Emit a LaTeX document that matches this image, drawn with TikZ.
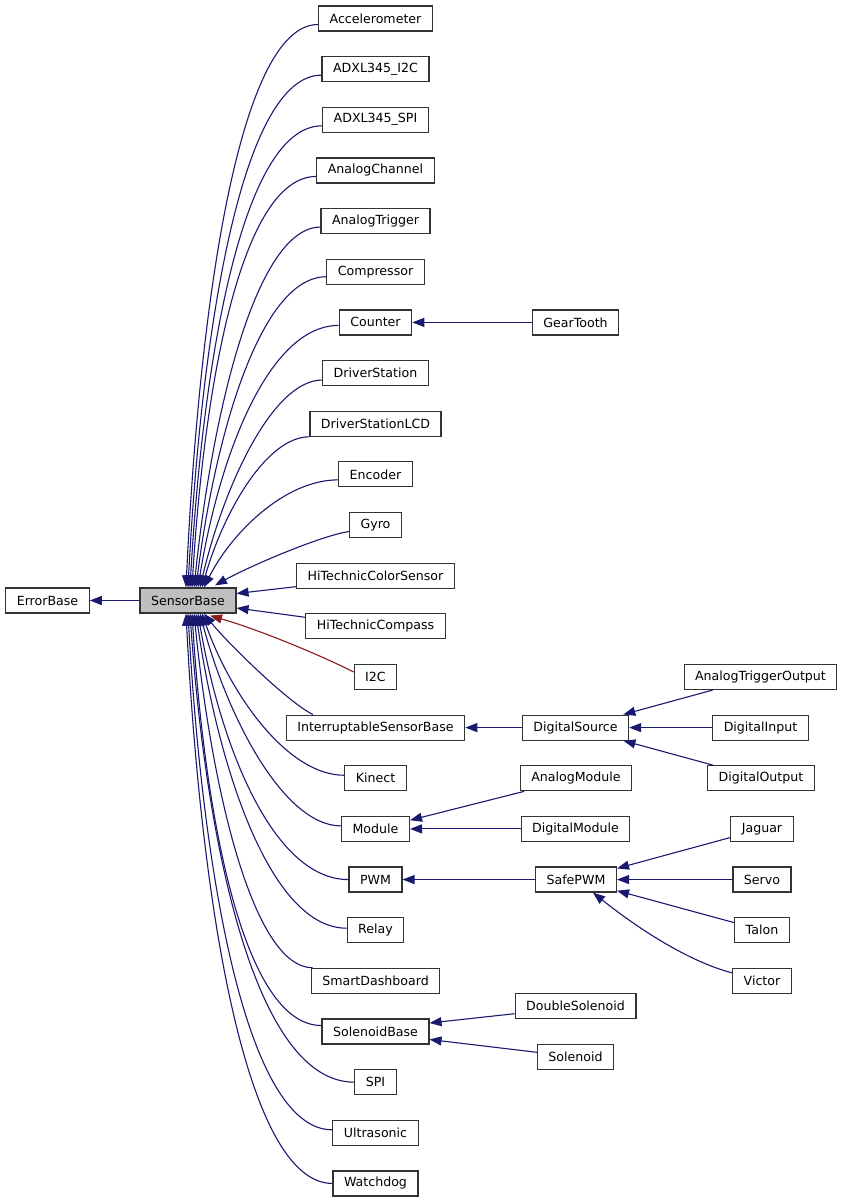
\documentclass[tikz,border=0pt]{standalone}
\usepackage{fontspec}
\setmainfont{DejaVu Sans}
\usetikzlibrary{arrows.meta,calc}
\definecolor{navy}{HTML}{191970}
\definecolor{fire}{HTML}{8B1A1A}
\definecolor{boxline}{HTML}{333333}
\definecolor{sbfill}{HTML}{BFBFBF}
% curved connector: style, start, end, a, b
\newcommand\sbarc[5]{%
  \draw[#1] let \p1=#2, \p2=#3 in
    (\p1) .. controls ({\x1-#4*(\x1-\x2)},{\y1}) and ({\x2+#5*(\x1-\x2)},{0.5*(\y1+\y2)}) .. (\p2);}
\begin{document}
\begin{tikzpicture}[x=1pt,y=-1pt,
  cls/.style={draw=boxline, line width=1.2pt, fill=white, minimum height=25pt,
    inner xsep=11pt, inner ysep=0pt, font=\fontsize{12.6}{14}\selectfont, text=black},
  inh/.style={draw=navy, line width=1.1pt, -{Triangle[length=12pt,width=9pt]}},
  priv/.style={draw=fire, line width=1.1pt, -{Triangle[length=12pt,width=9pt]}}]
\useasboundingbox (0,0) rectangle (843,1203);

% base classes
\node[cls] (eb) at (47.5,600.5) {ErrorBase};
\node[cls, fill=sbfill] (sb) at (188,600.5) {SensorBase};

% column 2
\node[cls] (acc) at (375.5,18.5) {Accelerometer};
\node[cls] (adi) at (375.5,69.15) {ADXL345\_I2C};
\node[cls] (ads) at (375.5,119.8) {ADXL345\_SPI};
\node[cls] (ach) at (375.5,170.45) {AnalogChannel};
\node[cls] (atr) at (375.5,221.1) {AnalogTrigger};
\node[cls] (cmp) at (375.5,271.75) {Compressor};
\node[cls] (cnt) at (375.5,322.4) {Counter};
\node[cls] (dst) at (375.5,373.05) {DriverStation};
\node[cls] (dsl) at (375.5,423.7) {DriverStationLCD};
\node[cls] (enc) at (375.5,474.35) {Encoder};
\node[cls] (gyr) at (375.5,525.0) {Gyro};
\node[cls] (hcs) at (375.5,575.65) {HiTechnicColorSensor};
\node[cls] (hcp) at (375.5,626.3) {HiTechnicCompass};
\node[cls] (itc) at (375.5,676.95) {I2C};
\node[cls] (isb) at (375.5,727.6) {InterruptableSensorBase};
\node[cls] (kin) at (375.5,778.25) {Kinect};
\node[cls] (mod) at (375.5,828.9) {Module};
\node[cls] (pwm) at (375.5,879.55) {PWM};
\node[cls] (rel) at (375.5,930.2) {Relay};
\node[cls] (smd) at (375.5,980.85) {SmartDashboard};
\node[cls] (slb) at (375.5,1031.5) {SolenoidBase};
\node[cls] (spi) at (375.5,1082.15) {SPI};
\node[cls] (uls) at (375.5,1132.8) {Ultrasonic};
\node[cls] (wdg) at (375.5,1183.45) {Watchdog};

% column 3
\node[cls] (gear) at (575.5,322.4) {GearTooth};
\node[cls] (dsrc) at (575.5,727.6) {DigitalSource};
\node[cls] (amod) at (576,778.25) {AnalogModule};
\node[cls] (dmod) at (575.5,828.9) {DigitalModule};
\node[cls] (spwm) at (576,879.55) {SafePWM};
\node[cls] (dsol) at (575.5,1006.2) {DoubleSolenoid};
\node[cls] (sol) at (575.5,1056.8) {Solenoid};

% column 4
\node[cls] (ato) at (760.5,676.95) {AnalogTriggerOutput};
\node[cls] (din) at (760.5,727.6) {DigitalInput};
\node[cls] (dout) at (761,778.25) {DigitalOutput};
\node[cls] (jag) at (762,828.9) {Jaguar};
\node[cls] (srv) at (762,879.55) {Servo};
\node[cls] (tal) at (762,930.2) {Talon};
\node[cls] (vic) at (762,980.85) {Victor};

% SensorBase -> ErrorBase
\draw[inh] (sb.west) -- (eb.east);

% upper children of SensorBase
\sbarc{inh}{([yshift=-6]acc.west)}{([xshift=-2]sb.north)}{0.6}{0.1}
\sbarc{inh}{([yshift=-6]adi.west)}{(sb.north)}{0.6}{0.1}
\sbarc{inh}{([yshift=-6]ads.west)}{([xshift=2]sb.north)}{0.6}{0.1}
\sbarc{inh}{([yshift=-6]ach.west)}{([xshift=4]sb.north)}{0.6}{0.1}
\sbarc{inh}{([yshift=-6]atr.west)}{([xshift=6]sb.north)}{0.5}{0.15}
\sbarc{inh}{([yshift=-5]cmp.west)}{([xshift=8]sb.north)}{0.5}{0.15}
\sbarc{inh}{([yshift=-3]cnt.west)}{([xshift=10]sb.north)}{0.5}{0.15}
\sbarc{inh}{([yshift=-7]dst.west)}{([xshift=12]sb.north)}{0.4}{0.2}
\sbarc{inh}{(dsl.south west)}{([xshift=14]sb.north)}{0.4}{0.2}
\sbarc{inh}{([yshift=-5.5]enc.west)}{([xshift=16]sb.north)}{0.4}{0.2}
\draw[inh] ([yshift=-6.5]gyr.west) .. controls (320,536) and (250,566) .. ([xshift=27,yshift=2]sb.north);

% side children
\draw[inh] ([yshift=-11]hcs.west) -- ([yshift=7]sb.east);
\draw[inh] ([yshift=9]hcp.west) -- ([yshift=-7.5]sb.east);

% I2C (private)
\draw[priv] ([yshift=5]itc.west) .. controls (320,655) and (260,630) .. ([xshift=22,yshift=-2]sb.south);

% lower children of SensorBase
\draw[inh] ([xshift=27]isb.north west) .. controls (285,700) and (225,640) .. ([xshift=16]sb.south);
\sbarc{inh}{([yshift=3]kin.west)}{([xshift=14]sb.south)}{0.4}{0.2}
\sbarc{inh}{([yshift=3]mod.west)}{([xshift=12]sb.south)}{0.4}{0.2}
\sbarc{inh}{(pwm.west)}{([xshift=10]sb.south)}{0.5}{0.15}
\sbarc{inh}{([yshift=2]rel.west)}{([xshift=8]sb.south)}{0.5}{0.15}
\sbarc{inh}{([xshift=2]smd.north west)}{([xshift=6]sb.south)}{0.5}{0.15}
\sbarc{inh}{([yshift=6]slb.west)}{([xshift=4]sb.south)}{0.6}{0.1}
\sbarc{inh}{(spi.west)}{([xshift=2]sb.south)}{0.6}{0.1}
\sbarc{inh}{([yshift=3]uls.west)}{(sb.south)}{0.6}{0.1}
\sbarc{inh}{(wdg.west)}{([xshift=-2]sb.south)}{0.6}{0.1}

% deeper levels
\draw[inh] (gear.west) -- (cnt.east);
\draw[inh] (dsrc.west) -- (isb.east);
\draw[inh] (ato) -- (dsrc);
\draw[inh] (din.west) -- (dsrc.east);
\draw[inh] (dout) -- (dsrc);
\draw[inh] (amod) -- (mod);
\draw[inh] (dmod.west) -- (mod.east);
\draw[inh] (spwm.west) -- (pwm.east);
\draw[inh] (jag) -- (spwm);
\draw[inh] (srv.west) -- (spwm.east);
\draw[inh] (tal) -- (spwm);
\draw[inh] ([yshift=8]vic.west) .. controls (690,962) and (640,930) .. ([xshift=17]spwm.south);
\draw[inh] ([yshift=-7.5]dsol.west) -- ([yshift=8.5]slb.east);
\draw[inh] ([yshift=4.5]sol.west) -- ([yshift=-8]slb.east);
\end{tikzpicture}
\end{document}
